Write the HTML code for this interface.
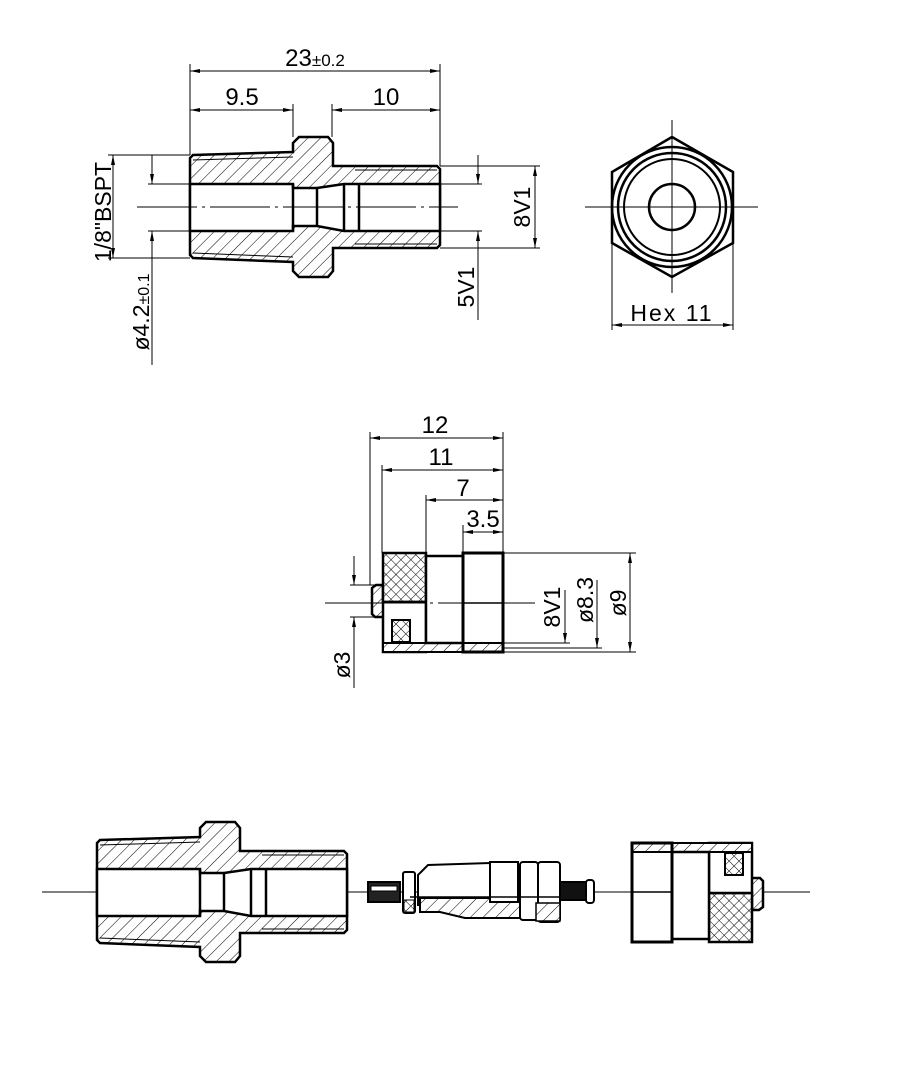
<!DOCTYPE html>
<html><head><meta charset="utf-8"><style>
html,body{margin:0;padding:0;background:#fff;}
svg{display:block;}
text{font-family:"Liberation Sans",sans-serif;fill:#000;}
</style></head><body>
<svg width="913" height="1080" viewBox="0 0 913 1080" xmlns="http://www.w3.org/2000/svg">
<defs>
<pattern id="h" patternUnits="userSpaceOnUse" width="9" height="9" patternTransform="rotate(45)">
<rect width="9" height="9" fill="#fff"/><line x1="0" y1="0" x2="0" y2="9" stroke="#000" stroke-width="1"/></pattern>
<pattern id="k" patternUnits="userSpaceOnUse" width="7" height="7" patternTransform="rotate(45)">
<rect width="7" height="7" fill="#fff"/><line x1="0" y1="0" x2="0" y2="7" stroke="#000" stroke-width="1"/><line x1="0" y1="0" x2="7" y2="0" stroke="#000" stroke-width="1"/></pattern>
<marker id="a" viewBox="0 0 10 4" refX="10" refY="2" markerWidth="10" markerHeight="4" markerUnits="userSpaceOnUse" orient="auto-start-reverse"><path d="M0,0 L10,2 L0,4 Z" fill="#000"/></marker>
<g id="fit">
<path d="M193,155 L293,152 L293,143 L299,137 L328,137 L333,143 L333,166 L437,166 L440,169 L440,245 L437,248 L333,248 L333,271 L328,277 L299,277 L293,271 L293,262 L193,258 L190,255 L190,158 Z" fill="url(#h)" stroke="#000" stroke-width="2.5"/>
<path d="M190,184 L293,184 L293,188 L317,188 L344,184 L440,184 L440,231 L344,231 L317,226 L293,226 L293,231 L190,231 Z" fill="#fff" stroke="#000" stroke-width="2.5"/>
<g stroke="#000" stroke-width="2.5"><line x1="293" y1="184" x2="293" y2="231"/><line x1="317" y1="188" x2="317" y2="226"/><line x1="344" y1="184" x2="344" y2="231"/><line x1="359" y1="184" x2="359" y2="231"/></g>
<g stroke="#000" stroke-width="1"><line x1="193" y1="160" x2="293" y2="157"/><line x1="193" y1="253" x2="293" y2="257"/><line x1="355" y1="170" x2="437" y2="170"/><line x1="355" y1="244" x2="437" y2="244"/></g>
</g>
<g id="cap">
<path d="M372,588 L376,585 L383,585 L383,600 L391,608 L386,617 L375,617 L372,614 Z" fill="url(#h)" stroke="#000" stroke-width="2.5"/>
<rect x="383" y="553" width="43" height="49" fill="url(#k)" stroke="#000" stroke-width="2.5"/>
<path d="M383,602 L426,602 L426,652 L383,652 Z" fill="#fff" stroke="#000" stroke-width="2.5"/>
<rect x="392" y="620" width="18" height="22" fill="url(#k)" stroke="#000" stroke-width="2"/>
<rect x="383" y="643" width="120" height="9" fill="url(#h)" stroke="#000" stroke-width="2"/>
<rect x="426" y="556" width="37" height="87" fill="#fff" stroke="#000" stroke-width="2.5"/>
<rect x="463" y="553" width="40" height="99" fill="none" stroke="#000" stroke-width="3"/>
<line x1="463" y1="603" x2="503" y2="603" stroke="#000" stroke-width="1.5"/>
</g>
</defs>

<!-- TOP LEFT -->
<use href="#fit"/>
<g stroke="#000" stroke-width="1" fill="none">
<line x1="137" y1="207" x2="458" y2="207" stroke-dasharray="60,5,3,5"/>
<line x1="190" y1="64" x2="190" y2="155"/><line x1="440" y1="64" x2="440" y2="166"/>
<line x1="293" y1="104" x2="293" y2="137"/><line x1="332" y1="104" x2="332" y2="137"/>
<line x1="190" y1="71" x2="440" y2="71" marker-start="url(#a)" marker-end="url(#a)"/>
<line x1="190" y1="110" x2="293" y2="110" marker-start="url(#a)" marker-end="url(#a)"/>
<line x1="332" y1="110" x2="440" y2="110" marker-start="url(#a)" marker-end="url(#a)"/>
<line x1="108" y1="155" x2="190" y2="155"/><line x1="108" y1="258" x2="190" y2="258"/>
<line x1="113" y1="155" x2="113" y2="258" marker-start="url(#a)" marker-end="url(#a)"/>
<line x1="148" y1="184" x2="190" y2="184"/><line x1="148" y1="231" x2="190" y2="231"/>
<line x1="152" y1="155" x2="152" y2="184" marker-end="url(#a)"/>
<line x1="152" y1="365" x2="152" y2="231" marker-end="url(#a)"/>
<line x1="440" y1="166" x2="540" y2="166"/><line x1="440" y1="248" x2="540" y2="248"/>
<line x1="535" y1="166" x2="535" y2="248" marker-start="url(#a)" marker-end="url(#a)"/>
<line x1="440" y1="184" x2="482" y2="184"/><line x1="440" y1="231" x2="482" y2="231"/>
<line x1="478" y1="155" x2="478" y2="184" marker-end="url(#a)"/>
<line x1="478" y1="320" x2="478" y2="231" marker-end="url(#a)"/>
</g>
<text x="315" y="66" font-size="24" text-anchor="middle">23<tspan font-size="17">±0.2</tspan></text>
<text x="242" y="105" font-size="24" text-anchor="middle">9.5</text>
<text x="386" y="105" font-size="24" text-anchor="middle">10</text>
<text transform="translate(111,212) rotate(-90)" font-size="23" text-anchor="middle">1/8"BSPT</text>
<text transform="translate(149,312) rotate(-90)" font-size="23" text-anchor="middle">ø4.2<tspan font-size="16">±0.1</tspan></text>
<text transform="translate(530,207) rotate(-90)" font-size="23" text-anchor="middle">8V1</text>
<text transform="translate(474,287) rotate(-90)" font-size="23" text-anchor="middle">5V1</text>

<!-- HEX -->
<g stroke="#000" fill="none">
<polygon points="672,137 733,172 733,243 672,277 612,243 612,172" stroke-width="2.5"/>
<circle cx="672" cy="207" r="60" stroke-width="2.5"/>
<circle cx="672" cy="207" r="54" stroke-width="2.5"/>
<circle cx="672" cy="207" r="48" stroke-width="2"/>
<circle cx="672" cy="207" r="23" stroke-width="2.5"/>
<line x1="585" y1="207" x2="758" y2="207" stroke-width="1"/>
<line x1="672" y1="120" x2="672" y2="293" stroke-width="1"/>
<line x1="612" y1="243" x2="612" y2="330" stroke-width="1"/>
<line x1="733" y1="243" x2="733" y2="330" stroke-width="1"/>
<line x1="612" y1="325" x2="733" y2="325" stroke-width="1" marker-start="url(#a)" marker-end="url(#a)"/>
</g>
<text x="672" y="321" font-size="23" text-anchor="middle" letter-spacing="2">Hex  11</text>

<!-- MIDDLE -->
<use href="#cap"/>
<g stroke="#000" stroke-width="1" fill="none">
<line x1="325" y1="603" x2="535" y2="603" stroke-dasharray="100,5,3,5"/>
<line x1="370" y1="432" x2="370" y2="585"/><line x1="382" y1="465" x2="382" y2="553"/>
<line x1="426" y1="495" x2="426" y2="556"/><line x1="463" y1="525" x2="463" y2="553"/>
<line x1="503" y1="432" x2="503" y2="553"/>
<line x1="370" y1="438" x2="503" y2="438" marker-start="url(#a)" marker-end="url(#a)"/>
<line x1="382" y1="470" x2="503" y2="470" marker-start="url(#a)" marker-end="url(#a)"/>
<line x1="426" y1="500" x2="503" y2="500" marker-start="url(#a)" marker-end="url(#a)"/>
<line x1="463" y1="532" x2="503" y2="532" marker-start="url(#a)" marker-end="url(#a)"/>
<line x1="503" y1="553" x2="636" y2="553"/><line x1="503" y1="652" x2="636" y2="652"/>
<line x1="503" y1="643" x2="570" y2="643"/><line x1="503" y1="648" x2="602" y2="648"/>
<line x1="630" y1="553" x2="630" y2="652" marker-start="url(#a)" marker-end="url(#a)"/>
<line x1="565" y1="590" x2="565" y2="643" marker-end="url(#a)"/>
<line x1="597" y1="580" x2="597" y2="648" marker-end="url(#a)"/>
<line x1="350" y1="585" x2="376" y2="585"/><line x1="350" y1="617" x2="376" y2="617"/>
<line x1="354" y1="556" x2="354" y2="585" marker-end="url(#a)"/>
<line x1="354" y1="688" x2="354" y2="617" marker-end="url(#a)"/>
</g>
<text x="435" y="433" font-size="24" text-anchor="middle">12</text>
<text x="441" y="465" font-size="24" text-anchor="middle">11</text>
<text x="463" y="496" font-size="24" text-anchor="middle">7</text>
<text x="483" y="527" font-size="24" text-anchor="middle">3.5</text>
<text transform="translate(560,607) rotate(-90)" font-size="23" text-anchor="middle">8V1</text>
<text transform="translate(593,600) rotate(-90)" font-size="23" text-anchor="middle">ø8.3</text>
<text transform="translate(626,603) rotate(-90)" font-size="23" text-anchor="middle">ø9</text>
<text transform="translate(350,665) rotate(-90)" font-size="23" text-anchor="middle">ø3</text>

<!-- BOTTOM -->
<line x1="42" y1="892" x2="810" y2="892" stroke="#000" stroke-width="1"/>
<use href="#fit" transform="translate(-93,685)"/>
<use href="#cap" transform="translate(1135,1495) scale(-1,-1)"/>
<!-- valve core -->
<g stroke="#000" stroke-width="2" fill="#fff">
<rect x="368" y="882" width="32" height="20" fill="#222"/>
<rect x="371" y="886" width="26" height="5" fill="#fff" stroke-width="1"/>
<rect x="403" y="872" width="12" height="41" rx="2"/>
<rect x="404" y="900" width="10" height="12" fill="url(#k)" stroke-width="1"/>
<path d="M418,875 L428,865 L490,863 L490,905 L418,905 Z"/>
<path d="M420,898 L540,898 L540,912 L520,912 L520,918 L465,918 L440,912 L420,912 Z" fill="url(#h)"/>
<rect x="490" y="862" width="28" height="40"/>
<rect x="520" y="862" width="18" height="58" rx="3"/>
<rect x="538" y="862" width="22" height="60" rx="3"/>
<rect x="536" y="903" width="24" height="18" fill="url(#h)" stroke-width="1.5"/>
<rect x="560" y="882" width="27" height="18" fill="#111"/>
<rect x="586" y="880" width="8" height="23" rx="3"/>
<line x1="410" y1="897" x2="560" y2="897" stroke-width="1.5"/>
</g>
</svg>
</body></html>
